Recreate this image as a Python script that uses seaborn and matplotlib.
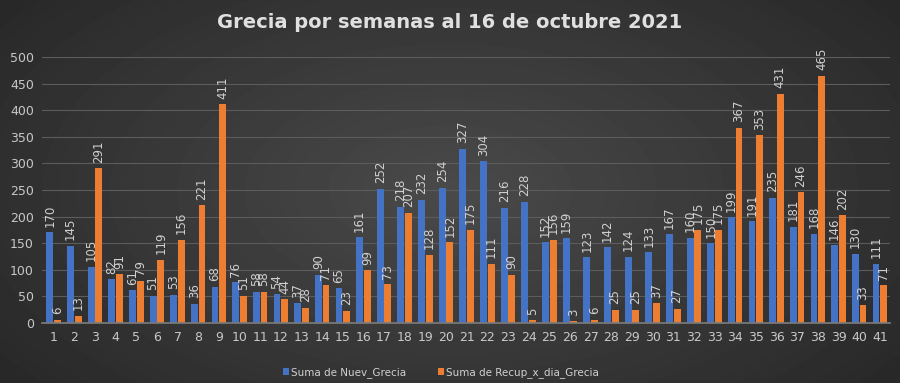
import numpy as np
import pandas as pd
import matplotlib
matplotlib.use("Agg")
import matplotlib.pyplot as plt
import seaborn as sns

weeks = list(range(1, 42))
nuev = [170, 145, 105, 82, 61, 51, 53, 36, 68, 76, 58, 54, 37, 90, 65, 161, 252, 218, 232, 254,
        327, 304, 216, 228, 152, 159, 123, 142, 124, 133, 167, 160, 150, 199, 191, 235, 181, 168,
        146, 130, 111]
recup = [6, 13, 291, 91, 79, 119, 156, 221, 411, 51, 58, 44, 28, 71, 23, 99, 73, 207, 128, 152,
         175, 111, 90, 5, 156, 3, 6, 25, 25, 37, 27, 175, 175, 367, 353, 431, 246, 465, 202, 33, 71]
series_names = ["Suma de Nuev_Grecia", "Suma de Recup_x_dia_Grecia"]
colors = ["#4472C4", "#ED7D31"]

df = pd.DataFrame({
    "semana": [str(w) for w in weeks] * 2,
    "valor": nuev + recup,
    "serie": [series_names[0]] * len(weeks) + [series_names[1]] * len(weeks),
})

sns.set_theme(style="dark")
fig = plt.figure(figsize=(9, 3.83), dpi=100)

# background gradient
bg = fig.add_axes([0, 0, 1, 1], zorder=-10)
yy, xx = np.mgrid[0:383, 0:900]
r = np.sqrt(((xx - 450) / 560.0) ** 2 + ((yy - 190) / 300.0) ** 2)
val = np.clip(0.29 - 0.13 * r, 0.15, 0.29)
bg.imshow(val, cmap="gray", vmin=0, vmax=1, aspect="auto", extent=[0, 1, 0, 1])
bg.set_axis_off()

ax = fig.add_axes([0.047, 0.157, 0.942, 0.694])
ax.set_facecolor("none")
sns.barplot(data=df, x="semana", y="valor", hue="serie", palette=colors,
            width=0.74, gap=0.1, ax=ax, saturation=1, legend=True,
            linewidth=0, edgecolor="none")

for cont in ax.containers:
    ax.bar_label(cont, rotation=90, padding=4, fontsize=8.5, color="#d0d0d0")

ax.set_ylim(0, 500)
ax.set_xlim(-0.55, 40.5)
ax.set_yticks(range(0, 501, 50))
ax.grid(axis="y", color="#5c5c5c", linewidth=0.8)
ax.set_axisbelow(True)
ax.tick_params(axis="both", colors="#c8c8c8", labelsize=9, length=0, pad=6)
ax.set_xlabel("")
ax.set_ylabel("")
for s in ["top", "right", "left"]:
    ax.spines[s].set_visible(False)
ax.spines["bottom"].set_color("#7a7a7a")

leg = ax.legend(loc="lower center", bbox_to_anchor=(0.47, -0.235), ncol=2, frameon=False,
                fontsize=7.5, labelcolor="#d0d0d0", handlelength=0.6, handleheight=0.6,
                columnspacing=3, handletextpad=0.2, borderpad=0.2)
for h in leg.legend_handles:
    h.set_linewidth(0)

fig.text(0.5, 0.942, "Grecia por semanas al 16 de octubre 2021", ha="center", va="center",
         fontsize=14, fontweight="bold", color="#e0e0e0")

fig.savefig("out.png", dpi=100)
